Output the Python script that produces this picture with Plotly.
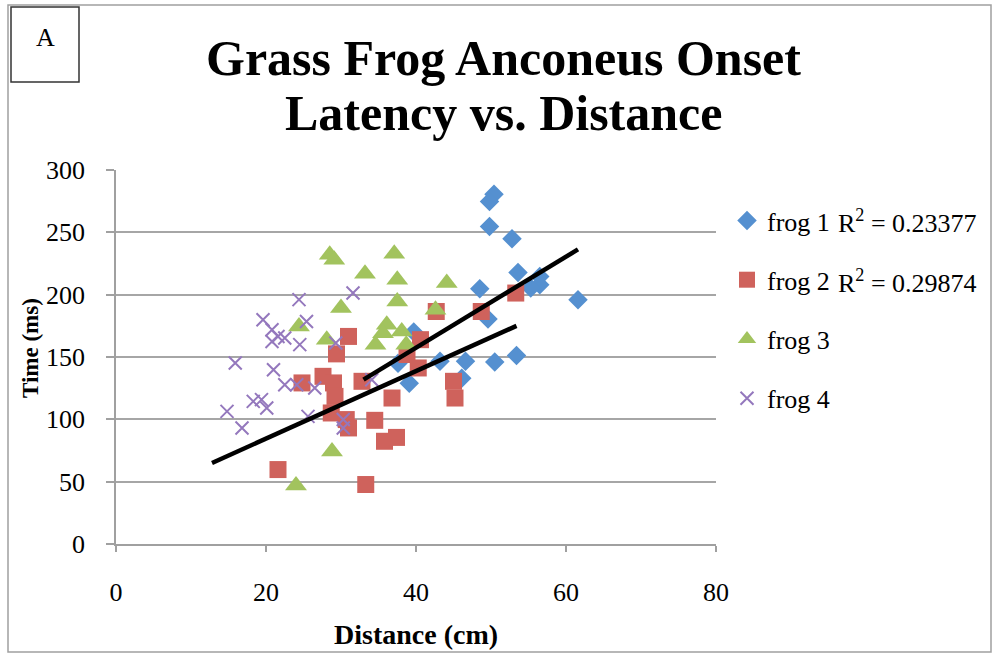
import plotly.graph_objects as go

# ---------------- data ----------------
frog1_x = [50.4, 49.8, 49.8, 52.8, 53.6, 56.5, 56.5, 55.3, 48.5, 61.6, 49.6, 39.7, 43.2, 46.6, 50.5, 53.4, 39.1, 46.1, 37.6]
frog1_y = [280.6, 274.7, 254.6, 244.8, 217.8, 214.6, 208.0, 205.3, 204.7, 196.0, 180.4, 170.0, 146.5, 146.5, 146.0, 151.3, 129.0, 133.0, 145.0]

frog2_x = [42.7, 48.7, 53.3, 40.6, 38.8, 31.0, 29.4, 24.8, 27.6, 29.0, 29.2, 32.8, 36.8, 28.7, 30.7, 31.0, 34.5, 35.8, 37.4, 21.6, 33.3, 40.3, 45.0, 45.2]
frog2_y = [186.5, 186.5, 201.3, 163.9, 152.0, 166.5, 152.5, 129.2, 134.5, 129.2, 118.4, 130.5, 117.1, 105.1, 99.8, 93.1, 99.2, 82.4, 85.5, 59.7, 47.7, 141.2, 130.5, 117.1]

frog3_x = [28.5, 29.1, 33.2, 37.1, 37.5, 44.1, 37.5, 30.0, 42.6, 24.4, 28.1, 36.1, 35.6, 38.1, 34.6, 38.7, 24.0, 28.8]
frog3_y = [232.0, 228.0, 216.7, 232.8, 212.0, 209.3, 194.6, 189.3, 187.9, 174.5, 163.9, 175.9, 169.0, 170.5, 159.9, 159.9, 46.9, 74.1]

frog4_x = [31.6, 24.4, 25.4, 24.5, 29.3, 19.6, 20.8, 21.6, 22.5, 20.8, 15.9, 21.0, 22.5, 24.1, 26.5, 18.3, 19.4, 20.1, 14.8, 16.8, 25.6, 30.3, 34.1, 30.3]
frog4_y = [201.3, 196.0, 178.5, 159.9, 161.2, 179.9, 171.9, 166.5, 165.2, 162.5, 145.2, 139.8, 127.8, 127.8, 125.2, 114.4, 115.8, 109.1, 106.4, 93.1, 102.4, 99.8, 131.8, 93.0]

# linear trend lines (end points)
trend1_x = [33.0, 61.6]
trend1_y = [131.8, 236.3]
trend2_x = [12.8, 53.4]
trend2_y = [65.0, 175.0]

series_names = ["frog 1", "frog 2", "frog 3", "frog 4"]
r2_labels = ["R<sup>2</sup> = 0.23377", "R<sup>2</sup> = 0.29874"]

x_ticks = [0, 20, 40, 60, 80]
y_ticks = [0, 50, 100, 150, 200, 250, 300]

title_lines = ["Grass Frog Anconeus Onset", "Latency vs. Distance"]
x_title = "Distance (cm)"
y_title = "Time (ms)"
panel_label = "A"

# ---------------- layout helpers ----------------
W, H = 997, 656
ML, MR, MT, MB = 116, 281, 170, 112
PW = W - ML - MR
PH = H - MT - MB


def px(xp):
    return (xp - ML) / PW


def py(yp):
    return (H - MB - yp) / PH


SERIF = "Liberation Serif"
GRID = "#a6a6a6"

colors = ["#5590d0", "#cf625c", "#a2c35e", "#9478bd"]

fig = go.Figure()

fig.add_trace(go.Scatter(x=frog1_x, y=frog1_y, mode="markers", name=series_names[0],
                         legendgroup="g1",
                         marker=dict(symbol="diamond", size=15, color=colors[0],
                                     line=dict(width=0))))
fig.add_trace(go.Scatter(x=frog2_x, y=frog2_y, mode="markers", name=series_names[1],
                         legendgroup="g2",
                         marker=dict(symbol="square", size=17, color=colors[1],
                                     line=dict(width=0))))
fig.add_trace(go.Scatter(x=frog3_x, y=frog3_y, mode="markers", name=series_names[2],
                         legendgroup="g3",
                         marker=dict(symbol="triangle-up", size=19, color=colors[2],
                                     line=dict(width=0))))
fig.add_trace(go.Scatter(x=frog4_x, y=frog4_y, mode="markers", name=series_names[3],
                         legendgroup="g4",
                         marker=dict(symbol="x-thin", size=13, color=colors[3],
                                     line=dict(width=2, color=colors[3]))))

fig.add_trace(go.Scatter(x=trend1_x, y=trend1_y, mode="lines", showlegend=False,
                         line=dict(color="black", width=4.5)))
fig.add_trace(go.Scatter(x=trend2_x, y=trend2_y, mode="lines", showlegend=False,
                         line=dict(color="black", width=4.5)))

annotations = []
# title (two lines placed separately for exact spacing)
annotations.append(dict(text="<b>%s</b>" % title_lines[0], x=px(504), y=py(58),
                        xref="paper", yref="paper", xanchor="center", yanchor="middle",
                        showarrow=False, font=dict(family=SERIF, size=50, color="black")))
annotations.append(dict(text="<b>%s</b>" % title_lines[1], x=px(504), y=py(113),
                        xref="paper", yref="paper", xanchor="center", yanchor="middle",
                        showarrow=False, font=dict(family=SERIF, size=50, color="black")))
# axis titles
annotations.append(dict(text="<b>%s</b>" % x_title, x=px(416), y=py(634),
                        xref="paper", yref="paper", xanchor="center", yanchor="middle",
                        showarrow=False, font=dict(family=SERIF, size=28, color="black")))
annotations.append(dict(text="<b>%s</b>" % y_title, x=px(30), y=py(348), textangle=-90,
                        xref="paper", yref="paper", xanchor="center", yanchor="middle",
                        showarrow=False, font=dict(family=SERIF, size=23, color="black")))
# R^2 labels next to legend entries
annotations.append(dict(text=r2_labels[0], x=px(836), y=py(221),
                        xref="paper", yref="paper", xanchor="left", yanchor="middle",
                        showarrow=False, font=dict(family=SERIF, size=26, color="black")))
annotations.append(dict(text=r2_labels[1], x=px(836), y=py(281),
                        xref="paper", yref="paper", xanchor="left", yanchor="middle",
                        showarrow=False, font=dict(family=SERIF, size=26, color="black")))
# panel label
annotations.append(dict(text=panel_label, x=px(45), y=py(38),
                        xref="paper", yref="paper", xanchor="center", yanchor="middle",
                        showarrow=False, font=dict(family=SERIF, size=26, color="black")))

shapes = [
    # outer frame
    dict(type="rect", xref="paper", yref="paper", x0=px(8), x1=px(991), y0=py(5), y1=py(652),
         line=dict(color="#a0a0a0", width=1.5), fillcolor="rgba(0,0,0,0)", layer="below"),
    # panel label box
    dict(type="rect", xref="paper", yref="paper", x0=px(11), x1=px(79), y0=py(7), y1=py(82),
         line=dict(color="#333333", width=1.5), fillcolor="white"),
]

fig.update_layout(
    width=W, height=H,
    margin=dict(l=ML, r=MR, t=MT, b=MB, autoexpand=False),
    paper_bgcolor="white", plot_bgcolor="white",
    font=dict(family=SERIF, size=26, color="black"),
    showlegend=True,
    legend=dict(x=px(727), y=py(197), xanchor="left", yanchor="top",
                font=dict(family=SERIF, size=26, color="black"),
                tracegroupgap=22.5, itemwidth=30, bgcolor="rgba(0,0,0,0)"),
    annotations=annotations,
    shapes=shapes,
    xaxis=dict(range=[0, 80], tickvals=x_ticks, ticktext=[str(v) for v in x_ticks],
               showgrid=False, zeroline=False, showline=True, linecolor="#a0a0a0", linewidth=1.5,
               ticks="outside", ticklen=6, tickcolor="#a0a0a0", tickwidth=1.5,
               ticklabelstandoff=18, tickfont=dict(family=SERIF, size=26, color="black")),
    yaxis=dict(range=[0, 300], tickvals=y_ticks, ticktext=[str(v) for v in y_ticks],
               showgrid=True, gridcolor=GRID, gridwidth=1.5, zeroline=False,
               showline=True, linecolor="#a0a0a0", linewidth=1.5,
               ticks="outside", ticklen=8, tickcolor="#a0a0a0", tickwidth=1.5,
               ticklabelstandoff=16, tickfont=dict(family=SERIF, size=26, color="black")),
)

fig.write_html("out.html", config={"displayModeBar": False},
               post_script="document.body.style.margin='0';")
